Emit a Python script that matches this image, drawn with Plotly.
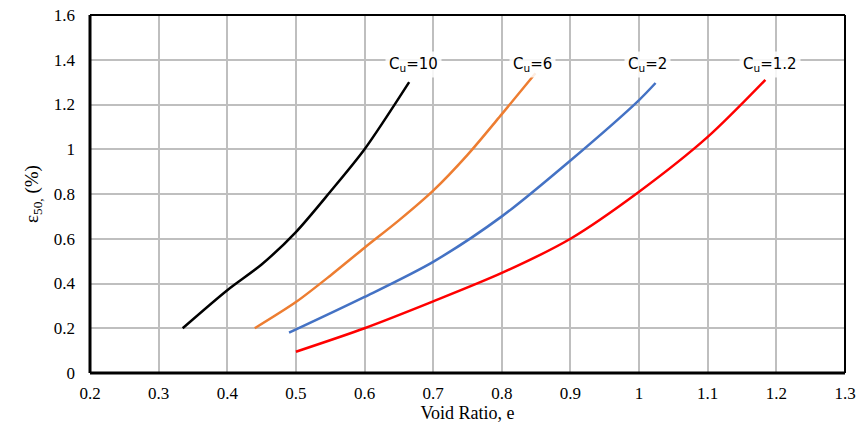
import plotly.graph_objects as go

# Data
cu10_x = [0.335, 0.40, 0.45, 0.50, 0.55, 0.60, 0.665]
cu10_y = [0.20, 0.37, 0.485, 0.63, 0.81, 1.00, 1.30]

cu6_x = [0.44, 0.50, 0.55, 0.60, 0.65, 0.70, 0.75, 0.80, 0.849]
cu6_y = [0.20, 0.317, 0.435, 0.56, 0.682, 0.815, 0.975, 1.157, 1.34]

cu2_x = [0.49, 0.60, 0.70, 0.80, 0.90, 1.00, 1.024]
cu2_y = [0.18, 0.34, 0.497, 0.70, 0.95, 1.22, 1.296]

cu12_x = [0.50, 0.60, 0.70, 0.80, 0.90, 1.00, 1.10, 1.184]
cu12_y = [0.095, 0.20, 0.32, 0.447, 0.60, 0.81, 1.055, 1.31]

series_names = ["C<sub>u</sub>=10", "C<sub>u</sub>=6", "C<sub>u</sub>=2", "C<sub>u</sub>=1.2"]
series_colors = ["#000000", "#ED7D31", "#4472C4", "#FF0000"]
label_x = [0.672, 0.845, 1.012, 1.19]
label_y = [1.38, 1.38, 1.38, 1.38]

x_ticks = [0.2, 0.3, 0.4, 0.5, 0.6, 0.7, 0.8, 0.9, 1.0, 1.1, 1.2, 1.3]
x_tick_text = ["0.2", "0.3", "0.4", "0.5", "0.6", "0.7", "0.8", "0.9", "1", "1.1", "1.2", "1.3"]
y_ticks = [0, 0.2, 0.4, 0.6, 0.8, 1.0, 1.2, 1.4, 1.6]
y_tick_text = ["0", "0.2", "0.4", "0.6", "0.8", "1", "1.2", "1.4", "1.6"]

fig = go.Figure()
for xs, ys, name, col in zip([cu10_x, cu6_x, cu2_x, cu12_x],
                             [cu10_y, cu6_y, cu2_y, cu12_y],
                             series_names, series_colors):
    fig.add_trace(go.Scatter(x=xs, y=ys, mode="lines", name=name,
                             line=dict(color=col, width=2.5, shape="spline", smoothing=0.8),
                             showlegend=False, hoverinfo="skip"))

for name, lx, ly in zip(series_names, label_x, label_y):
    fig.add_annotation(x=lx, y=ly, text=name, showarrow=False,
                       font=dict(family="DejaVu Sans", size=15, color="#000000"),
                       bgcolor="rgba(255,255,255,0.85)", borderpad=3)

serif = "Liberation Serif"
fig.update_xaxes(range=[0.2, 1.3], tickvals=x_ticks, ticktext=x_tick_text,
                 showgrid=True, gridcolor="#BFBFBF", gridwidth=1.5,
                 zeroline=False, showline=False, ticks="", automargin=False,
                 ticklabelstandoff=8, ticklabeloverflow="allow",
                 tickfont=dict(family=serif, size=17, color="#000"),
                 title=dict(text="Void Ratio, e", font=dict(family=serif, size=18, color="#000"), standoff=4))
fig.update_yaxes(range=[0, 1.6], tickvals=y_ticks, ticktext=y_tick_text,
                 showgrid=True, gridcolor="#BFBFBF", gridwidth=1.5,
                 zeroline=False, showline=False, ticks="", automargin=False,
                 ticklabelstandoff=14, ticklabeloverflow="allow",
                 tickfont=dict(family=serif, size=17, color="#000"),
                 title=dict(text="ε<sub>50,</sub> (%)", font=dict(family=serif, size=19, color="#000"), standoff=10))

# frame: thicker left/bottom, thinner top/right
fig.add_shape(type="line", xref="paper", yref="paper", x0=0, x1=0, y0=0, y1=1, line=dict(color="#000", width=3))
fig.add_shape(type="line", xref="paper", yref="paper", x0=0, x1=1, y0=0, y1=0, line=dict(color="#000", width=3))
fig.add_shape(type="line", xref="paper", yref="paper", x0=0, x1=1, y0=1, y1=1, line=dict(color="#000", width=2))
fig.add_shape(type="line", xref="paper", yref="paper", x0=1, x1=1, y0=0, y1=1, line=dict(color="#000", width=2))

fig.update_layout(width=858, height=430, margin=dict(l=90, r=13, t=15, b=57),
                  plot_bgcolor="white", paper_bgcolor="white")

# remove the default page margin so the figure sits at the window's top-left corner
fig.write_html("out.html", config={"displayModeBar": False},
               post_script="document.body.style.margin='0';document.body.style.overflow='hidden';")
